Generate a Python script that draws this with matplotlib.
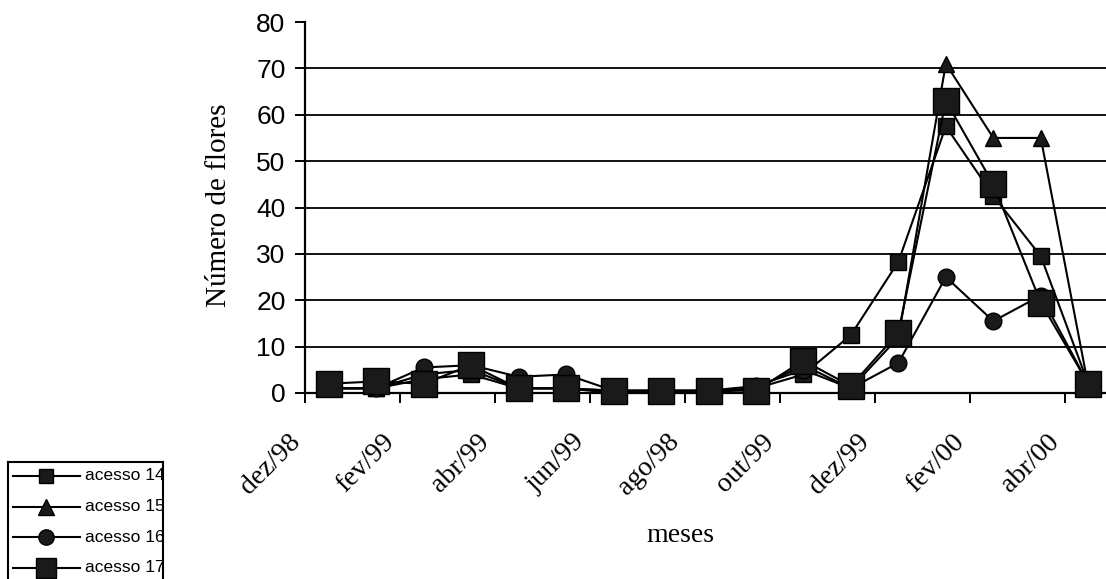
import numpy as np
from matplotlib import pyplot as plt

# meses (rótulo só a cada dois meses, como no original)
meses = ['dez/98', 'fev/99', 'abr/99', 'jun/99', 'ago/98',
         'out/99', 'dez/99', 'fev/00', 'abr/00']
n_meses = 17

# número de flores por acesso
acesso_14 = [1, 1, 3, 4, 1, 1, 0, 0, 0, 1, 4, 12.5, 28.3, 57.5, 42.5, 29.5, 2]
acesso_15 = [1, 1, 4, 5, 1, 1, 0.5, 0.5, 0.5, 1, 6, 1, 12, 71, 55, 55, 1.5]
acesso_16 = [1, 1, 5.5, 6, 3.5, 4, 0.5, 0.5, 0.5, 1.5, 5, 1, 6.5, 25, 15.5, 21, 2]
acesso_17 = [2, 2.5, 2, 6, 1, 1, 0.5, 0.5, 0.5, 0.5, 7, 1.5, 13, 63, 45, 19.5, 2]

series = [
    ('acesso 14', acesso_14, 's', 11, 10),
    ('acesso 15', acesso_15, '^', 12, 12),
    ('acesso 16', acesso_16, 'o', 12, 11),
    ('acesso 17', acesso_17, 's', 19, 15),
]

W, H = 1106, 579
fig = plt.figure(figsize=(W / 100, H / 100), dpi=100)
# o eixo passa um pouco da borda direita, como na figura original
ax = fig.add_axes([305 / W, 186 / H, 807 / W, 371 / H])

x = np.arange(n_meses)
for nome, valores, marcador, tam, _ in series:
    ax.plot(x, valores, color='black', lw=1.5, marker=marcador,
            markersize=tam, markerfacecolor='#1a1a1a', markeredgecolor='black',
            clip_on=False, zorder=3)

ax.set_xlim(-0.5, n_meses - 0.5)
ax.set_ylim(0, 80)

# linhas de grade horizontais (sem a de 80)
for yv in range(10, 80, 10):
    ax.axhline(yv, color='#111111', lw=1.4, zorder=1)

for lado in ['top', 'right']:
    ax.spines[lado].set_visible(False)
for lado in ['left', 'bottom']:
    ax.spines[lado].set_linewidth(1.6)

ax.set_yticks(range(0, 81, 10))
ax.tick_params(axis='y', direction='out', length=7, width=1.4, pad=7,
               labelsize=19)
for t in ax.get_yticklabels():
    t.set_family('Liberation Sans')

ax.set_xticks(np.arange(0, n_meses, 2) - 0.5)
ax.set_xticklabels(meses, rotation=45, ha='right', va='top',
                   family='Liberation Serif', fontsize=20)
ax.tick_params(axis='x', direction='out', length=7, width=1.4, pad=19)

fig.text(219 / W, 1 - 205 / H, 'Número de flores', rotation=90,
         ha='center', va='center', family='Liberation Serif', fontsize=21)
fig.text(680 / W, 1 - 536 / H, 'meses', ha='center', va='center',
         family='Liberation Serif', fontsize=20)

# legenda desenhada à mão: a caixa é cortada pela borda da figura
lax = fig.add_axes([8 / W, (H - 640) / H, 155 / W, 178 / H])
lax.set_xlim(8, 163)
lax.set_ylim(640, 462)
lax.set_xticks([])
lax.set_yticks([])
for s in lax.spines.values():
    s.set_linewidth(1.5)
for i, (nome, valores, marcador, _, tam_leg) in enumerate(series):
    yl = 476 + i * 30.5
    lax.plot([13, 80], [yl, yl], color='black', lw=1.5)
    lax.plot([46], [yl], marker=marcador, markersize=tam_leg,
             color='#1a1a1a', markeredgecolor='black')
    lax.text(85, yl, nome, va='center', ha='left', fontsize=12.5,
             family='Liberation Sans', clip_on=True)

fig.savefig('out.png', dpi=100)
